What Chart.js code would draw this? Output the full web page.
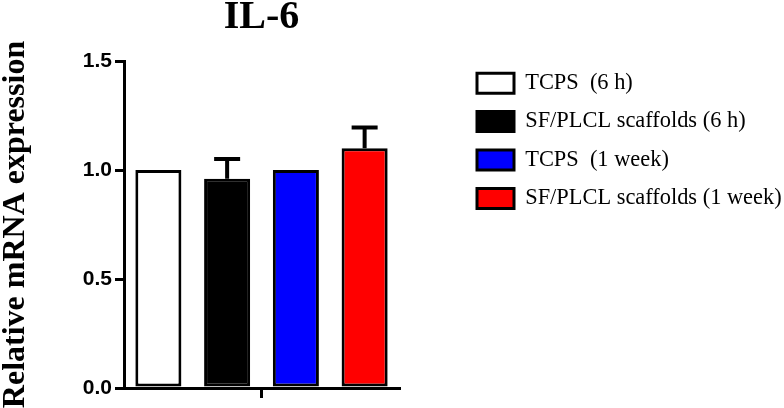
<!DOCTYPE html>
<html lang="en">

<head>
    <meta charset="UTF-8">
    <title>IL-6</title>
    <style>
        body { margin: 0; background: #fff; }
    </style>
</head>

<body>
    <canvas id="myChart" width="784" height="408"></canvas>

    <script src="https://cdn.jsdelivr.net/npm/chart.js"></script>
    <script>
        // data
        const groups = ['TCPS  (6 h)', 'SF/PLCL scaffolds (6 h)', 'TCPS  (1 week)', 'SF/PLCL scaffolds (1 week)'];
        const values = [1.0, 0.96, 1.0, 1.10];
        const errors = [0, 0.09, 0, 0.095];
        const colors = ['#ffffff', '#000000', '#0000ff', '#ff0000'];
        const yTicks = [0, 0.5, 1.0, 1.5];

        // upward-only error bars (GraphPad style)
        const errorBars = {
            id: 'errorBars',
            afterDatasetsDraw(chart) {
                const ctx = chart.ctx;
                const y = chart.scales.y;
                ctx.save();
                ctx.strokeStyle = '#000';
                ctx.lineWidth = 4;
                chart.data.datasets.forEach((ds, i) => {
                    if (!errors[i]) return;
                    const bar = chart.getDatasetMeta(i).data[0];
                    const top = y.getPixelForValue(values[i] + errors[i]);
                    ctx.beginPath();
                    ctx.moveTo(bar.x, bar.y);
                    ctx.lineTo(bar.x, top);
                    ctx.moveTo(bar.x - 13, top);
                    ctx.lineTo(bar.x + 13, top);
                    ctx.stroke();
                });
                ctx.restore();
            }
        };

        const ctx = document.getElementById('myChart');
        new Chart(ctx, {
            type: 'bar',
            data: {
                labels: [''],
                datasets: groups.map((g, i) => ({
                    label: g,
                    data: [values[i]],
                    backgroundColor: colors[i],
                    borderColor: '#000',
                    borderWidth: 3,
                    borderSkipped: false,
                    barPercentage: 0.67,
                    categoryPercentage: 1
                }))
            },
            options: {
                responsive: false,
                animation: false,
                layout: { padding: { top: 0, bottom: 10, left: 0, right: 0 } },
                plugins: {
                    title: {
                        display: true,
                        text: 'IL-6',
                        fullSize: false,
                        color: '#000',
                        font: { family: 'Liberation Serif', size: 40, weight: 'bold', lineHeight: 0.9 },
                        padding: { top: 0, bottom: 25 }
                    },
                    legend: {
                        position: 'right',
                        align: 'start',
                        maxWidth: 323,
                        title: { display: true, text: '', font: { size: 10, lineHeight: 1 }, padding: { top: 46, bottom: 0 } },
                        labels: {
                            color: '#000',
                            boxWidth: 37,
                            boxHeight: 20,
                            padding: 16,
                            font: { family: 'Liberation Serif', size: 22.4 }
                        }
                    },
                    tooltip: { enabled: false }
                },
                scales: {
                    x: {
                        ticks: { display: false },
                        grid: { offset: false, drawOnChartArea: false, tickLength: 10, lineWidth: 3, color: '#000' },
                        border: { color: '#000', width: 3 }
                    },
                    y: {
                        min: 0,
                        max: 1.5,
                        afterBuildTicks: s => { s.ticks = yTicks.map(v => ({ value: v })); },
                        afterFit: s => { s.width = 124; },
                        ticks: {
                            color: '#000',
                            padding: 3,
                            font: { family: 'Liberation Sans', size: 21, weight: 'bold' },
                            callback: v => v.toFixed(1)
                        },
                        grid: { drawOnChartArea: false, tickLength: 9, lineWidth: 3, color: '#000' },
                        border: { color: '#000', width: 3 },
                        title: {
                            display: true,
                            text: 'Relative mRNA expression',
                            color: '#000',
                            font: { family: 'Liberation Serif', size: 32, weight: 'bold', lineHeight: 1 },
                            padding: { top: 0, bottom: 0 }
                        }
                    },
                    gap: {
                        position: 'right',
                        display: true,
                        ticks: { display: false },
                        grid: { display: false },
                        border: { display: false },
                        afterFit: s => { s.width = 62; }
                    }
                }
            },
            plugins: [errorBars]
        });
    </script>
</body>

</html>
